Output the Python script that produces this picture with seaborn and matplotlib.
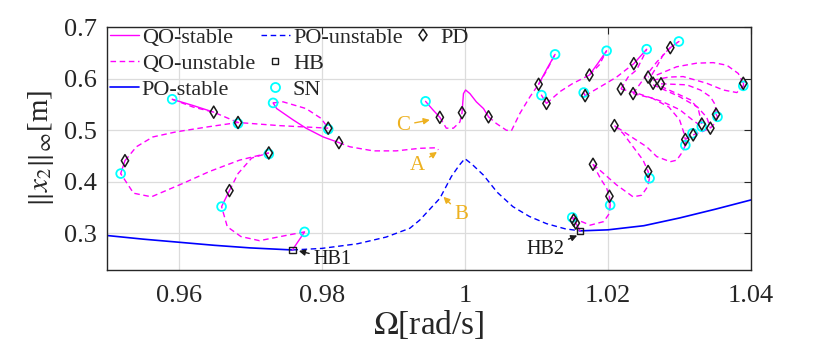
import matplotlib
matplotlib.use("Agg")
import matplotlib.pyplot as plt
import seaborn as sns
from matplotlib.lines import Line2D

sns.set_theme(style="whitegrid")
plt.rcParams['font.family'] = ['Liberation Serif', 'DejaVu Serif']
plt.rcParams['mathtext.fontset'] = 'stix'

MAG = '#FF00FF'
BLUE = '#0000FF'
CYAN = '#00FFFF'
ORANGE = '#EDB120'

# ---------------- periodic orbit (PO) branch ----------------
po_stable_a_w = [0.9500, 0.9550, 0.9600, 0.9650, 0.9700, 0.9759]
po_stable_a_x = [0.296, 0.289, 0.283, 0.277, 0.272, 0.268]
po_unstable_w = [0.9759, 0.9800, 0.9850, 0.9890, 0.9923, 0.9937, 0.9965, 0.9981, 0.9992,
                 1.0000, 1.0010, 1.0026, 1.0045, 1.0067, 1.0090, 1.0114, 1.0140, 1.0161]
po_unstable_x = [0.268, 0.271, 0.280, 0.293, 0.310, 0.326, 0.368, 0.410, 0.432,
                 0.445, 0.434, 0.413, 0.380, 0.352, 0.333, 0.319, 0.309, 0.305]
po_stable_b_w = [1.0161, 1.0200, 1.0250, 1.0300, 1.0350, 1.0400]
po_stable_b_x = [0.305, 0.307, 0.315, 0.330, 0.347, 0.365]

# ---------------- quasi-periodic (QO) branches: stable pieces ----------------
qs1_w = [0.9759, 0.9776];                 qs1_x = [0.268, 0.303]
qs2_w = [0.9660, 0.9671];                 qs2_x = [0.352, 0.383]
qs3_w = [0.9519, 0.9525];                 qs3_x = [0.416, 0.441]
qs4_w = [0.9591, 0.9620, 0.9649];         qs4_x = [0.560, 0.548, 0.535]
qs5_w = [0.9732, 0.9737, 0.9760, 0.9778, 0.9802, 0.9824]
qs5_x = [0.553, 0.542, 0.520, 0.504, 0.487, 0.476]
qs6_w = [0.9945, 0.9955, 0.9965];         qs6_x = [0.556, 0.540, 0.525]
qs7_w = [0.9996, 0.9998, 1.0001, 1.0007, 1.0016, 1.0026, 1.0033]
qs7_x = [0.534, 0.571, 0.578, 0.571, 0.555, 0.542, 0.526]
qs8_w = [1.0103, 1.0115, 1.0126];         qs8_x = [0.589, 0.620, 0.647]
qs9_w = [1.0107, 1.0114];                 qs9_x = [0.568, 0.552]
qs10_w = [1.0174, 1.0186, 1.0198];        qs10_x = [0.607, 0.630, 0.654]
qs11_w = [1.0166, 1.0168];                qs11_x = [0.573, 0.567]
qs12_w = [1.0236, 1.0245, 1.0254];        qs12_x = [0.629, 0.643, 0.657]
qs13_w = [1.0287, 1.0299];                qs13_x = [0.660, 0.672]
qs14_w = [1.0161, 1.0155, 1.0152, 1.0150]; qs14_x = [0.305, 0.320, 0.326, 0.331]
qs15_w = [1.0202, 1.0203];                qs15_x = [0.372, 0.355]
qs16_w = [1.0256, 1.0258];                qs16_x = [0.420, 0.407]
qs17_w = [1.0308, 1.0308];                qs17_x = [0.482, 0.471]
qs18_w = [1.0351, 1.0353];                qs18_x = [0.531, 0.526]
qs19_w = [1.0389, 1.0389];                qs19_x = [0.591, 0.586]

# ---------------- QO branches: unstable pieces ----------------
qu1_w = [0.9776, 0.9746, 0.9713, 0.9687, 0.9668, 0.9660]
qu1_x = [0.303, 0.295, 0.286, 0.294, 0.313, 0.352]
qu2_w = [0.9671, 0.9683, 0.9702, 0.9726]
qu2_x = [0.383, 0.416, 0.446, 0.456]
qu3_w = [0.9726, 0.9685, 0.9643, 0.9606, 0.9562, 0.9537, 0.9519]
qu3_x = [0.456, 0.442, 0.420, 0.397, 0.371, 0.378, 0.416]
qu4_w = [0.9525, 0.9541, 0.9564, 0.9597, 0.9643, 0.9683, 0.9740, 0.9809]
qu4_x = [0.441, 0.468, 0.487, 0.497, 0.507, 0.515, 0.509, 0.504]
qu5_w = [0.9591, 0.9620, 0.9649, 0.9683]
qu5_x = [0.560, 0.545, 0.535, 0.515]
qu6_w = [0.9732, 0.9746, 0.9778, 0.9799, 0.9809]
qu6_x = [0.553, 0.555, 0.542, 0.523, 0.504]
qu7_w = [0.9824, 0.9839, 0.9872, 0.9904, 0.9937, 0.9960, 0.9963]
qu7_x = [0.476, 0.468, 0.460, 0.460, 0.465, 0.466, 0.462]
qu8_w = [0.9965, 0.9974, 0.9984, 0.9993, 0.9996]
qu8_x = [0.525, 0.504, 0.504, 0.516, 0.534]
qu9_w = [1.0033, 1.0044, 1.0058, 1.0065, 1.0077, 1.0091, 1.0103]
qu9_x = [0.526, 0.513, 0.500, 0.499, 0.533, 0.565, 0.589]
qu10_w = [1.0103, 1.0114, 1.0126];       qu10_x = [0.589, 0.615, 0.647]
qu11_w = [1.0114, 1.0133, 1.0150, 1.0174]; qu11_x = [0.552, 0.575, 0.590, 0.607]
qu12_w = [1.0174, 1.0188, 1.0198];       qu12_x = [0.607, 0.627, 0.654]
qu13_w = [1.0168, 1.0189, 1.0212, 1.0236]; qu13_x = [0.567, 0.584, 0.603, 0.629]
qu14_w = [1.0218, 1.0228, 1.0240, 1.0249, 1.0254]
qu14_x = [0.580, 0.603, 0.617, 0.642, 0.657]
qu15_w = [1.0235, 1.0250, 1.0268, 1.0287]; qu15_x = [0.571, 0.600, 0.632, 0.660]
qu16_w = [1.0287, 1.0277, 1.0268, 1.0261, 1.0256]
qu16_x = [0.660, 0.646, 0.623, 0.607, 0.603]
qu17_w = [1.0268, 1.0296, 1.0324, 1.0347, 1.0366, 1.0382, 1.0389]
qu17_x = [0.607, 0.623, 0.630, 0.631, 0.626, 0.610, 0.591]
qu18_w = [1.0263, 1.0285, 1.0305, 1.0338, 1.0361, 1.0380, 1.0389]
qu18_x = [0.597, 0.603, 0.604, 0.591, 0.578, 0.573, 0.586]
qu19_w = [1.0274, 1.0310, 1.0329, 1.0343, 1.0350, 1.0351]
qu19_x = [0.590, 0.588, 0.578, 0.565, 0.549, 0.531]
qu20_w = [1.0274, 1.0301, 1.0315, 1.0326, 1.0331]
qu20_x = [0.585, 0.568, 0.559, 0.542, 0.512]
qu21_w = [1.0263, 1.0300, 1.0325, 1.0338, 1.0343]
qu21_x = [0.588, 0.565, 0.545, 0.525, 0.504]
qu22_w = [1.0218, 1.0240, 1.0275, 1.0300, 1.0318, 1.0331]
qu22_x = [0.580, 0.572, 0.556, 0.540, 0.520, 0.507]
qu23_w = [1.0235, 1.0262, 1.0285, 1.0300, 1.0306, 1.0308]
qu23_x = [0.571, 0.562, 0.545, 0.520, 0.495, 0.482]
qu24_w = [1.0308, 1.0304, 1.0296, 1.0287, 1.0268, 1.0254, 1.0235, 1.0209]
qu24_x = [0.471, 0.458, 0.442, 0.439, 0.449, 0.468, 0.485, 0.509]
qu25_w = [1.0209, 1.0221, 1.0235, 1.0249, 1.0256]
qu25_x = [0.509, 0.494, 0.468, 0.442, 0.420]
qu26_w = [1.0179, 1.0194, 1.0212, 1.0235, 1.0247, 1.0255, 1.0258]
qu26_x = [0.434, 0.416, 0.394, 0.371, 0.374, 0.390, 0.407]
qu27_w = [1.0179, 1.0190, 1.0198, 1.0202]; qu27_x = [0.434, 0.405, 0.388, 0.372]
qu28_w = [1.0203, 1.0202, 1.0194, 1.0175, 1.0163, 1.0150]
qu28_x = [0.355, 0.339, 0.323, 0.316, 0.323, 0.331]
qu29_w = [1.0319, 1.0331, 1.0343, 1.0350, 1.0353]
qu29_x = [0.491, 0.497, 0.504, 0.515, 0.526]
qu30_w = [1.0308, 1.0313, 1.0319];       qu30_x = [0.482, 0.487, 0.491]

# ---------------- bifurcation points ----------------
pd_w = [0.9671, 0.9726, 0.9525, 0.9649, 0.9683, 0.9809, 0.9824, 0.9965, 0.9996, 1.0033,
        1.0103, 1.0114, 1.0174, 1.0168, 1.0218, 1.0235, 1.0236, 1.0287, 1.0256, 1.0263,
        1.0274, 1.0389, 1.0351, 1.0331, 1.0343, 1.0319, 1.0308, 1.0209, 1.0179, 1.0202,
        1.0256, 1.0152, 1.0155]
pd_x = [0.383, 0.456, 0.441, 0.535, 0.515, 0.504, 0.476, 0.525, 0.534, 0.526,
        0.589, 0.552, 0.607, 0.567, 0.580, 0.571, 0.629, 0.660, 0.603, 0.591,
        0.590, 0.591, 0.531, 0.512, 0.504, 0.491, 0.482, 0.509, 0.434, 0.372,
        0.420, 0.326, 0.320]
sn_w = [0.9776, 0.9660, 0.9519, 0.9591, 0.9732, 0.9945, 1.0126, 1.0107, 1.0198, 1.0166,
        1.0254, 1.0299, 1.0389, 1.0353, 1.0331, 1.0308, 1.0258, 1.0203, 1.0150, 1.0318,
        0.9683, 0.9809, 0.9726]
sn_x = [0.303, 0.352, 0.416, 0.560, 0.553, 0.556, 0.647, 0.568, 0.654, 0.573,
        0.657, 0.672, 0.586, 0.526, 0.507, 0.471, 0.407, 0.355, 0.331, 0.494,
        0.513, 0.502, 0.454]
hb_w = [0.9759, 1.0161]
hb_x = [0.268, 0.305]

x_ticks = [0.96, 0.98, 1.00, 1.02, 1.04]
x_tick_labels = ['0.96', '0.98', '1', '1.02', '1.04']
y_ticks = [0.3, 0.4, 0.5, 0.6, 0.7]
y_tick_labels = ['0.3', '0.4', '0.5', '0.6', '0.7']

qo_stable = [(qs1_w, qs1_x), (qs2_w, qs2_x), (qs3_w, qs3_x), (qs4_w, qs4_x), (qs5_w, qs5_x),
             (qs6_w, qs6_x), (qs7_w, qs7_x), (qs8_w, qs8_x), (qs9_w, qs9_x), (qs10_w, qs10_x),
             (qs11_w, qs11_x), (qs12_w, qs12_x), (qs13_w, qs13_x), (qs14_w, qs14_x),
             (qs15_w, qs15_x), (qs16_w, qs16_x), (qs17_w, qs17_x), (qs18_w, qs18_x),
             (qs19_w, qs19_x)]
qo_unstable = [(qu1_w, qu1_x), (qu2_w, qu2_x), (qu3_w, qu3_x), (qu4_w, qu4_x), (qu5_w, qu5_x),
               (qu6_w, qu6_x), (qu7_w, qu7_x), (qu8_w, qu8_x), (qu9_w, qu9_x), (qu10_w, qu10_x),
               (qu11_w, qu11_x), (qu12_w, qu12_x), (qu13_w, qu13_x), (qu14_w, qu14_x),
               (qu15_w, qu15_x), (qu16_w, qu16_x), (qu17_w, qu17_x), (qu18_w, qu18_x),
               (qu19_w, qu19_x), (qu20_w, qu20_x), (qu21_w, qu21_x), (qu22_w, qu22_x),
               (qu23_w, qu23_x), (qu24_w, qu24_x), (qu25_w, qu25_x), (qu26_w, qu26_x),
               (qu27_w, qu27_x), (qu28_w, qu28_x), (qu29_w, qu29_x), (qu30_w, qu30_x)]

fig = plt.figure(figsize=(8.3, 3.51), dpi=100)
ax = fig.add_axes([0.129, 0.232, 0.776, 0.691])

DASH = (0, (4.0, 2.6))


def draw(w, x, color, ls, lw):
    sns.lineplot(x=w, y=x, sort=False, estimator=None, color=color,
                 linestyle=ls, linewidth=lw, ax=ax, legend=False)


draw(po_stable_a_w, po_stable_a_x, BLUE, '-', 1.2)
draw(po_unstable_w, po_unstable_x, BLUE, DASH, 1.0)
draw(po_stable_b_w, po_stable_b_x, BLUE, '-', 1.2)
for w, x in qo_unstable:
    draw(w, x, MAG, DASH, 1.0)
for w, x in qo_stable:
    draw(w, x, MAG, '-', 1.0)

sns.scatterplot(x=sn_w, y=sn_x, marker='o', s=40, color=CYAN, facecolor='none',
                edgecolor=CYAN, linewidth=1.3, ax=ax, legend=False, zorder=4)
sns.scatterplot(x=pd_w, y=pd_x, marker='d', s=38, color='k', facecolor='none',
                edgecolor='k', linewidth=1.1, ax=ax, legend=False, zorder=5)
sns.scatterplot(x=hb_w, y=hb_x, marker='s', s=20, color='k', facecolor='none',
                edgecolor='k', linewidth=1.0, ax=ax, legend=False, zorder=5)

ax.set_xlim(0.95, 1.04)
ax.set_ylim(0.23, 0.70)
ax.set_xticks(x_ticks)
ax.set_xticklabels(x_tick_labels)
ax.set_yticks(y_ticks)
ax.set_yticklabels(y_tick_labels)
ax.tick_params(axis='both', which='both', direction='in', length=5, width=0.8,
               labelsize=19, colors='#262626', pad=7, top=True, right=True,
               labeltop=False, labelright=False)
ax.tick_params(axis='x', pad=11)
ax.grid(True, color='#DCDCDC', linewidth=0.9)
for sp in ax.spines.values():
    sp.set_visible(True)
    sp.set_color('#262626')
    sp.set_linewidth(1.0)

ax.set_xlabel(r'$\Omega$[rad/s]', fontsize=24, color='#262626', labelpad=1)
ax.set_ylabel(r'$\|x_2\|_\infty$[m]', fontsize=21, color='#262626', labelpad=6)

arrow_kw = dict(arrowstyle='-|>', mutation_scale=9, lw=1.0, shrinkA=1, shrinkB=0)
ax.annotate('A', xy=(0.9961, 0.458), xytext=(0.9934, 0.432), fontsize=15, color=ORANGE,
            ha='center', va='center', arrowprops=dict(color=ORANGE, **arrow_kw))
ax.annotate('B', xy=(0.9970, 0.371), xytext=(0.99955, 0.336), fontsize=15, color=ORANGE,
            ha='center', va='center', arrowprops=dict(color=ORANGE, **arrow_kw))
ax.annotate('C', xy=(0.9951, 0.520), xytext=(0.99137, 0.510), fontsize=15, color=ORANGE,
            ha='center', va='center', arrowprops=dict(color=ORANGE, **arrow_kw))
ax.annotate('HB1', xy=(0.9768, 0.266), xytext=(0.98154, 0.2504), fontsize=14.5, color='k',
            ha='center', va='center', arrowprops=dict(color='k', **arrow_kw))
ax.annotate('HB2', xy=(1.0157, 0.296), xytext=(1.01119, 0.2698), fontsize=14.5, color='k',
            ha='center', va='center', arrowprops=dict(color='k', **arrow_kw))

blank = Line2D([], [], ls='none', marker=None, alpha=0)
handles = [
    Line2D([], [], color=MAG, lw=1.0, ls='-'),
    Line2D([], [], color=MAG, lw=1.0, ls=DASH),
    Line2D([], [], color=BLUE, lw=1.2, ls='-'),
    Line2D([], [], color=BLUE, lw=1.0, ls=DASH),
    Line2D([], [], color='k', marker='s', mfc='none', ms=4.5, ls='none', mew=1.0),
    Line2D([], [], color=CYAN, marker='o', mfc='none', ms=6.5, ls='none', mew=1.3),
    Line2D([], [], color='k', marker='d', mfc='none', ms=6.5, ls='none', mew=1.1),
    blank, blank,
]
labels = ['QO-stable', 'QO-unstable', 'PO-stable', 'PO-unstable', 'HB', 'SN', 'PD', '', '']
ax.legend(handles, labels, ncol=3, loc='upper left', bbox_to_anchor=(0.004, 1.0),
          frameon=False, fontsize=16, handlelength=1.3, handletextpad=0.15,
          columnspacing=0.25, labelspacing=0.25, borderpad=0.0, borderaxespad=0.0)

fig.savefig('out.png', dpi=100)
